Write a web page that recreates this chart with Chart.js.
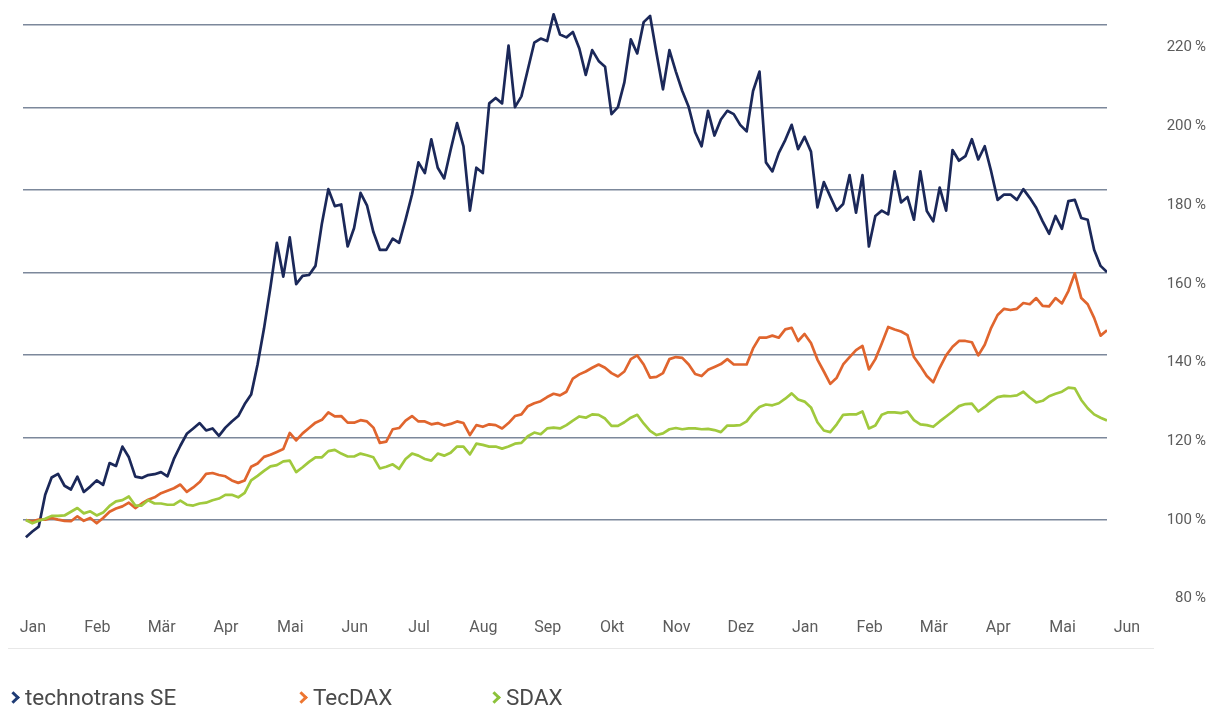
<!DOCTYPE html>
<html>
<head>
<meta charset="utf-8">
<script src="https://cdn.jsdelivr.net/npm/chart.js@4/dist/chart.umd.min.js"></script>
<style>
  html, body { margin: 0; padding: 0; background: #fff; }
  #wrap { position: relative; width: 1215px; height: 709px; overflow: hidden; }
  #sep { position: absolute; left: 8px; top: 648px; width: 1146px; height: 1px; background: #e8e8e8; }
  .leg { position: absolute; top: 685px; font: 22.5px Roboto, sans-serif; color: #4a4a4a; white-space: nowrap; line-height: 24px; }
  .chev { position: absolute; top: 8px; left: -16px; width: 6px; height: 6px; border-top: 3.5px solid; border-right: 3.5px solid; transform: rotate(45deg); }
</style>
</head>
<body>
<div id="wrap">
  <canvas id="myChart"></canvas>
  <div id="sep"></div>
  <div class="leg" style="left:25px"><span class="chev" style="color:#1f3c75"></span>technotrans SE</div>
  <div class="leg" style="left:313px"><span class="chev" style="color:#ee7631"></span>TecDAX</div>
  <div class="leg" style="left:506px"><span class="chev" style="color:#8cc23b"></span>SDAX</div>
</div>
<script>
// month ticks (x = months since start)
const monthLabels = ["Jan", "Feb", "Mär", "Apr", "Mai", "Jun", "Jul", "Aug", "Sep", "Okt", "Nov", "Dez",
  "Jan", "Feb", "Mär", "Apr", "Mai", "Jun"];
const gridTicks = [100, 120, 140, 160, 180, 200, 220];
const labelTicks = [80, 100, 120, 140, 160, 180, 200, 220];

// samples every 0.1 month
const startX = -0.11;
const stepX = 0.1;

const technotrans = [
  95.8, 97.2, 98.4, 106.1, 110.3, 111.2, 108.3, 107.4, 110.5, 106.8,
  108.1, 109.6, 108.5, 113.8, 113.1, 117.8, 115.2, 110.5, 110.2, 110.9,
  111.1, 111.6, 110.6, 114.8, 118.0, 120.9, 122.2, 123.5, 121.7, 122.2,
  120.4, 122.4, 123.9, 125.2, 128.1, 130.4, 137.7, 146.4, 156.4, 167.2,
  159.0, 168.5, 157.2, 159.2, 159.4, 161.6, 171.9, 180.2, 176.1, 176.5,
  166.3, 170.8, 179.3, 176.3, 169.8, 165.5, 165.5, 168.2, 167.2, 172.8,
  178.9, 186.7, 184.1, 192.3, 185.4, 182.8, 189.7, 196.2, 190.6, 175.0,
  185.4, 184.1, 201.0, 202.3, 201.0, 215.0, 200.1, 202.7, 209.2, 215.7,
  216.7, 216.1, 222.6, 217.7, 217.0, 218.3, 214.3, 207.9, 213.9, 211.3,
  209.9, 198.4, 200.1, 206.1, 216.5, 213.1, 220.7, 222.2, 213.1, 204.4,
  213.9, 208.7, 204.0, 200.1, 194.0, 190.6, 199.2, 193.2, 197.1, 199.2,
  198.4, 195.8, 194.2, 204.0, 208.7, 186.7, 184.5, 189.0, 192.1, 195.8,
  189.9, 192.9, 189.3, 175.8, 181.9, 178.4, 175.0, 176.6, 183.6, 174.5,
  183.6, 166.3, 173.7, 175.0, 174.1, 184.5, 177.0, 178.3, 172.8, 184.5,
  174.9, 172.4, 180.6, 175.0, 189.7, 187.1, 188.2, 192.3, 187.4, 190.6,
  184.5, 177.6, 178.9, 178.9, 177.6, 180.2, 178.1, 175.7, 172.4, 169.4,
  173.7, 170.6, 177.3, 177.6, 173.2, 172.8, 165.5, 161.6, 160.1
];

const tecdax = [
  100.0, 99.7, 100.1, 100.1, 100.5, 100.1, 99.8, 99.7, 100.9, 99.8,
  100.5, 99.2, 100.5, 102.0, 102.8, 103.3, 104.2, 102.9, 104.0, 104.9,
  105.5, 106.5, 107.1, 107.7, 108.6, 106.8, 107.9, 109.2, 111.2, 111.4,
  110.9, 110.6, 109.6, 109.0, 109.6, 112.9, 113.7, 115.3, 115.8, 116.5,
  117.2, 121.1, 119.3, 121.0, 122.3, 123.6, 124.3, 126.1, 125.1, 125.2,
  123.6, 123.6, 124.2, 123.9, 122.4, 118.7, 119.0, 122.0, 122.3, 124.1,
  125.2, 123.9, 123.9, 123.2, 123.5, 122.9, 123.3, 123.9, 123.5, 120.6,
  123.0, 122.6, 123.2, 123.0, 122.2, 123.5, 125.2, 125.6, 127.6, 128.3,
  128.8, 129.8, 130.6, 130.2, 131.1, 134.3, 135.3, 136.0, 136.9, 137.7,
  136.9, 135.6, 134.8, 136.0, 139.0, 139.9, 137.7, 134.5, 134.7, 135.6,
  139.0, 139.5, 139.3, 137.7, 135.4, 134.9, 136.4, 137.1, 137.8, 139.0,
  137.7, 137.7, 137.7, 141.6, 144.2, 144.2, 144.7, 144.2, 146.2, 146.6,
  143.4, 145.1, 142.9, 138.9, 136.0, 133.0, 134.5, 137.7, 139.5, 141.2,
  142.2, 136.5, 139.0, 142.8, 146.8, 146.2, 145.7, 144.8, 139.5, 137.3,
  134.9, 133.4, 136.9, 139.9, 142.0, 143.4, 143.4, 143.1, 139.9, 142.5,
  146.6, 149.7, 151.2, 150.9, 151.2, 152.6, 152.3, 153.8, 151.9, 151.8,
  153.8, 152.5, 155.5, 159.8, 153.8, 152.3, 149.0, 144.7, 146.0
];

const sdax = [
  100.0, 99.2, 99.8, 100.3, 101.0, 101.0, 101.1, 102.0, 102.9, 101.6,
  102.1, 101.1, 101.8, 103.4, 104.5, 104.8, 105.7, 103.5, 103.5, 104.8,
  104.0, 104.0, 103.7, 103.7, 104.7, 103.7, 103.5, 104.0, 104.2, 104.8,
  105.2, 106.1, 106.1, 105.5, 106.6, 109.6, 110.7, 111.9, 113.0, 113.3,
  114.2, 114.4, 111.6, 112.8, 114.1, 115.2, 115.2, 116.7, 117.0, 116.1,
  115.4, 115.4, 116.1, 115.7, 115.2, 112.5, 112.9, 113.5, 112.4, 114.8,
  116.1, 115.6, 114.8, 114.4, 116.1, 115.6, 116.3, 117.8, 117.8, 115.9,
  118.5, 118.2, 117.8, 117.8, 117.3, 117.8, 118.5, 118.7, 120.3, 121.2,
  120.8, 122.2, 122.4, 122.2, 123.0, 124.1, 125.1, 124.8, 125.6, 125.5,
  124.6, 122.8, 122.8, 123.7, 124.8, 125.5, 123.4, 121.6, 120.6, 121.0,
  122.0, 122.3, 122.0, 122.2, 122.2, 122.0, 122.1, 121.8, 121.3, 122.9,
  122.9, 123.0, 123.9, 125.9, 127.4, 128.0, 127.8, 128.3, 129.4, 130.7,
  129.2, 128.7, 127.3, 123.7, 121.7, 121.3, 123.2, 125.5, 125.6, 125.6,
  126.3, 122.2, 122.9, 125.5, 126.1, 126.1, 125.9, 126.3, 124.2, 123.2,
  123.0, 122.6, 123.9, 125.1, 126.3, 127.6, 128.1, 128.2, 126.3, 127.4,
  128.7, 129.8, 130.1, 130.0, 130.2, 131.1, 129.7, 128.5, 128.9, 130.0,
  130.6, 131.1, 132.1, 131.9, 129.1, 127.1, 125.6, 124.8, 124.1
];

const toPoints = (arr) => arr.map((v, i) => ({ x: startX + i * stepX, y: v }));

const line = (label, values, color) => ({
  label: label,
  data: toPoints(values),
  borderColor: color,
  borderWidth: 2.7,
  pointRadius: 0,
  tension: 0,
  borderJoinStyle: "round",
});

const config = {
  type: "line",
  data: {
    datasets: [
      line("SDAX", sdax, "#a0c93d"),
      line("TecDAX", tecdax, "#e0652e"),
      line("technotrans SE", technotrans, "#1b2859"),
    ],
  },
  options: {
    responsive: true,
    maintainAspectRatio: false,
    animation: false,
    layout: { padding: { left: 23, right: 9, top: 0, bottom: 0 } },
    plugins: { legend: { display: false }, tooltip: { enabled: false } },
    scales: {
      x: {
        type: "linear",
        min: -0.155,
        max: 16.69,
        grid: { display: false },
        border: { display: false },
        afterBuildTicks: (s) => { s.ticks = monthLabels.map((_, i) => ({ value: i })); },
        afterFit: (s) => { s.height = 101; s.paddingLeft = 0; s.paddingRight = 0; },
        ticks: {
          autoSkip: false,
          maxRotation: 0,
          padding: 2,
          color: "#5c5c5c",
          font: { family: "Roboto, sans-serif", size: 16 },
          callback: (v) => monthLabels[v] ?? "",
        },
      },
      y: {
        position: "left",
        min: 78.667,
        max: 226.06,
        border: { display: false },
        grid: { color: "#7c889b", lineWidth: 1.6, drawTicks: false },
        afterBuildTicks: (s) => { s.ticks = gridTicks.map((v) => ({ value: v })); },
        afterFit: (s) => { s.width = 0; s.paddingTop = 0; s.paddingBottom = 0; },
        ticks: { display: false },
      },
      y2: {
        position: "right",
        min: 77.64,
        max: 232.11,
        border: { display: false },
        grid: { display: false, drawTicks: false },
        afterBuildTicks: (s) => { s.ticks = labelTicks.map((v) => ({ value: v })); },
        afterFit: (s) => { s.width = 99; s.paddingTop = 0; s.paddingBottom = 0; },
        ticks: {
          crossAlign: "far",
          padding: 40,
          color: "#5c5c5c",
          font: { family: "Roboto, sans-serif", size: 15 },
          callback: (v) => v + "\u2009%",
        },
      },
    },
  },
};

myChart = new Chart("myChart", config);
</script>
</body>
</html>
